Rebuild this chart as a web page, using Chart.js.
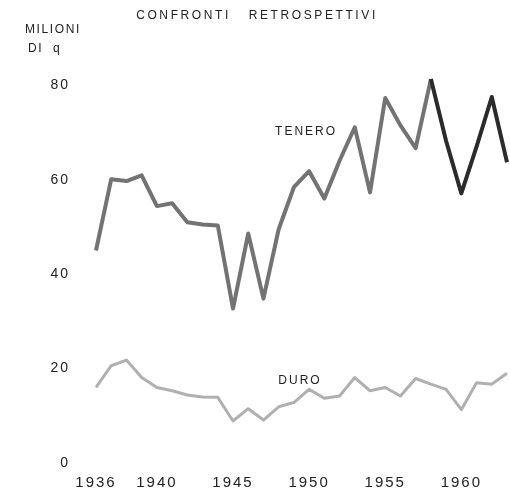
<!DOCTYPE html>
<html>
<head>
<meta charset="utf-8">
<script src="https://cdn.jsdelivr.net/npm/chart.js@4/dist/chart.umd.min.js"></script>
<style>
  html, body { margin: 0; padding: 0; background: #fff; overflow: hidden; }
  canvas { display: block; }
</style>
</head>
<body>
<canvas id="chart" width="510" height="494"></canvas>
<script>
// Years on the x axis
const years = [1936, 1937, 1938, 1939, 1940, 1941, 1942, 1943, 1944, 1945,
               1946, 1947, 1948, 1949, 1950, 1951, 1952, 1953, 1954, 1955,
               1956, 1957, 1958, 1959, 1960, 1961, 1962, 1963];

// Grano tenero (milioni di q)
const tenero = [45.0, 60.1, 59.7, 60.9, 54.4, 55.0, 51.0, 50.5, 50.3, 32.7,
                48.6, 34.8, 49.5, 58.4, 61.8, 56.0, 64.0, 71.1, 57.3, 77.3,
                71.5, 66.7, 81.3, 68.2, 57.1, 67.0, 77.5, 63.7];

// Grano duro (milioni di q)
const duro = [16.0, 20.6, 21.8, 18.1, 16.0, 15.3, 14.4, 14.0, 13.9, 8.9,
              11.5, 9.1, 11.9, 12.8, 15.6, 13.7, 14.2, 18.1, 15.3, 16.0,
              14.2, 17.9, 16.7, 15.6, 11.3, 17.0, 16.7, 19.0];

// Labels shown under the x axis
const yearTicks = [1936, 1940, 1945, 1950, 1955, 1960];
const valueTicks = [0, 20, 40, 60, 80];

const FONT = "'Liberation Sans', 'DejaVu Sans', sans-serif";

/**
 * Wider letter spacing for every text drawn by the chart (old lettering look).
 * Set again before layout and draw, since resizing the canvas resets the context.
 */
function setSpacing(chart) {
    if ('letterSpacing' in chart.ctx) chart.ctx.letterSpacing = '2px';
}
const spacingPlugin = {
    id: 'spacing',
    beforeLayout: setSpacing,
    beforeDraw: setSpacing
};

/**
 * Draw title, unit label and series names on top of the chart
 */
const textPlugin = {
    id: 'texts',
    afterDraw(chart) {
        const ctx = chart.ctx;
        const x = chart.scales.x;
        const y = chart.scales.y;
        const spacing = s => { if ('letterSpacing' in ctx) ctx.letterSpacing = s; };
        ctx.save();
        ctx.fillStyle = '#222';
        ctx.textBaseline = 'middle';

        spacing('2.6px');
        ctx.font = '12px ' + FONT;
        ctx.textAlign = 'center';
        ctx.fillText('CONFRONTI   RETROSPETTIVI', 257, 16);

        ctx.textAlign = 'left';
        spacing('1.6px');
        ctx.font = '12px ' + FONT;
        ctx.fillText('MILIONI', 25, 30);
        ctx.fillText('DI  q', 28, 49);

        // series names, placed in data coordinates
        spacing('2px');
        ctx.font = '12px ' + FONT;
        ctx.textAlign = 'center';
        ctx.fillText('TENERO', x.getPixelForValue(13.8), y.getPixelForValue(70.2));
        ctx.fillText('DURO', x.getPixelForValue(13.4), y.getPixelForValue(17.4));
        ctx.restore();
    }
};

document.addEventListener('DOMContentLoaded', function() {
    const ctx = document.getElementById('chart').getContext('2d');
    new Chart(ctx, {
        type: 'line',
        data: {
            labels: years,
            datasets: [
                {
                    label: 'Tenero',
                    data: tenero,
                    borderColor: '#737373',
                    borderWidth: 4,
                    pointRadius: 0,
                    tension: 0,
                    borderJoinStyle: 'round',
                    segment: {
                        borderColor: c => c.p0DataIndex >= 22 ? '#2b2b2b' : '#737373'
                    }
                },
                {
                    label: 'Duro',
                    data: duro,
                    borderColor: '#b0b0b0',
                    borderWidth: 3,
                    pointRadius: 0,
                    tension: 0,
                    borderJoinStyle: 'round'
                }
            ]
        },
        options: {
            responsive: false,
            animation: false,
            layout: { padding: { top: 38, right: -2, left: 0, bottom: 0 } },
            plugins: {
                legend: { display: false },
                tooltip: { enabled: false }
            },
            scales: {
                x: {
                    offset: false,
                    grid: { display: false },
                    border: { display: false },
                    afterFit: s => { s.height = 31; },
                    ticks: {
                        autoSkip: false,
                        maxRotation: 0,
                        padding: 3,
                        color: '#222',
                        font: { family: FONT, size: 15 },
                        callback: function(v, i) {
                            return yearTicks.includes(years[i]) ? String(years[i]) : '';
                        }
                    }
                },
                y: {
                    min: 0,
                    max: 90,
                    grid: { display: false },
                    border: { display: false },
                    afterFit: s => { s.width = 96; },
                    afterBuildTicks: s => {
                        s.ticks = valueTicks.map(v => ({ value: v }));
                    },
                    ticks: {
                        padding: 18,
                        color: '#222',
                        font: { family: FONT, size: 14 }
                    }
                }
            }
        },
        plugins: [spacingPlugin, textPlugin]
    });
});
</script>
</body>
</html>
